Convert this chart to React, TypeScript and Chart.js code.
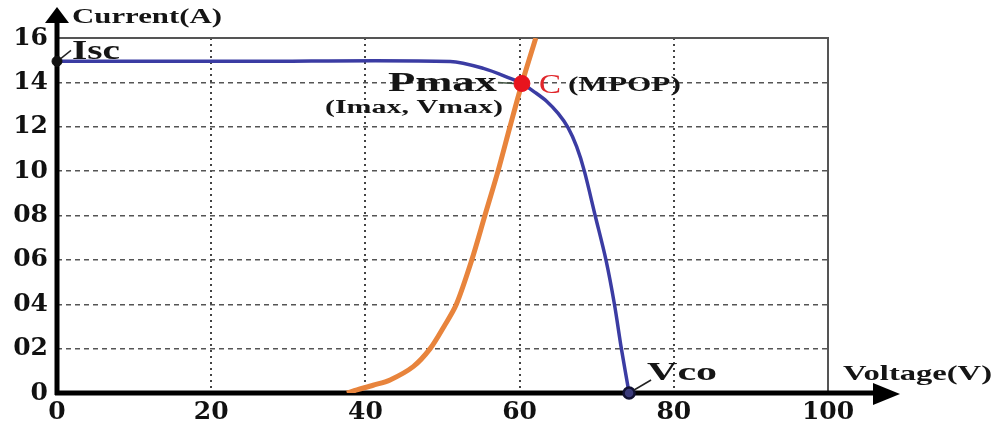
import React, { useEffect, useRef } from "react";
import { Chart, registerables } from "chart.js";

Chart.register(...registerables);

// I–V characteristic (blue) : [Voltage (V), Current (A)]
const ivVoltage = [0, 25, 51.0, 55.3, 58.8, 60.3, 62.0, 63.5, 65.0, 66.3, 67.4, 68.4, 69.8, 71.2, 72.3, 73.2, 74.2];
const ivCurrent = [14.95, 14.95, 14.94, 14.63, 14.18, 13.95, 13.55, 13.15, 12.6, 11.95, 11.1, 10.0, 8.0, 6.0, 4.0, 2.0, 0];

// Load line (orange)
const loadVoltage = [37.6, 38.9, 41.0, 43.2, 46.2, 48.4, 50.2, 51.8, 53.8, 55.5, 57.2, 58.75, 60.3, 62.1];
const loadCurrent = [0, 0.14, 0.35, 0.59, 1.19, 2.0, 3.0, 4.0, 6.0, 8.0, 10.0, 12.0, 13.95, 16.0];

// Special points
const iscPoint = { x: 0, y: 14.95 };
const mpopPoint = { x: 60.3, y: 13.95 };
const vcoPoint = { x: 74.2, y: 0 };

// Axes
const xTicks = [0, 20, 40, 60, 80, 100];
const yTicks = [0, 2, 4, 6, 8, 10, 12, 14, 16];
const yTickLabels = ["0", "02", "04", "06", "08", "10", "12", "14", "16"];

const SERIF = '"Liberation Serif", "Times New Roman", serif';

function stretchText(
  ctx: CanvasRenderingContext2D,
  text: string,
  x: number,
  baseline: number,
  size: number,
  width: number,
  color = "#151515",
  weight = "bold"
) {
  ctx.save();
  ctx.font = `${weight} ${size}px ${SERIF}`;
  const w = ctx.measureText(text).width;
  ctx.translate(x, baseline);
  ctx.scale(width / w, 1);
  ctx.fillStyle = color;
  ctx.textAlign = "left";
  ctx.textBaseline = "alphabetic";
  ctx.fillText(text, 0, 0);
  ctx.restore();
}

const decorPlugin = {
  id: "decor",
  beforeDatasetsDraw(chart: any) {
    const { ctx, chartArea } = chart;
    const xs = chart.scales.x;
    const ys = chart.scales.y;
    const x0 = xs.getPixelForValue(0);
    const y0 = ys.getPixelForValue(0);
    const xMax = xs.getPixelForValue(100);
    const yMax = ys.getPixelForValue(16);
    ctx.save();
    // frame (top & right)
    ctx.strokeStyle = "#555";
    ctx.lineWidth = 2;
    ctx.beginPath();
    ctx.moveTo(x0, yMax);
    ctx.lineTo(xMax, yMax);
    ctx.lineTo(xMax, y0);
    ctx.stroke();
    // axes
    ctx.strokeStyle = "#000";
    ctx.fillStyle = "#000";
    ctx.lineWidth = 5;
    ctx.beginPath();
    ctx.moveTo(x0, y0 + 2);
    ctx.lineTo(x0, chartArea.top - 20);
    ctx.moveTo(x0 - 2, y0);
    ctx.lineTo(xMax + 50, y0);
    ctx.stroke();
    // arrow heads
    ctx.beginPath();
    ctx.moveTo(x0, chartArea.top - 31);
    ctx.lineTo(x0 - 12, chartArea.top - 15);
    ctx.lineTo(x0 + 12, chartArea.top - 15);
    ctx.closePath();
    ctx.fill();
    ctx.beginPath();
    ctx.moveTo(xMax + 72, y0 + 1);
    ctx.lineTo(xMax + 45, y0 - 10);
    ctx.lineTo(xMax + 45, y0 + 12);
    ctx.closePath();
    ctx.fill();
    ctx.restore();
  },
  afterDatasetsDraw(chart: any) {
    const { ctx } = chart;
    const xs = chart.scales.x;
    const ys = chart.scales.y;
    const isc = { x: xs.getPixelForValue(iscPoint.x), y: ys.getPixelForValue(iscPoint.y) };
    const mp = { x: xs.getPixelForValue(mpopPoint.x), y: ys.getPixelForValue(mpopPoint.y) };
    const vc = { x: xs.getPixelForValue(vcoPoint.x), y: ys.getPixelForValue(vcoPoint.y) };
    ctx.save();
    ctx.lineWidth = 1.5;
    ctx.strokeStyle = "#222";
    ctx.beginPath();
    ctx.moveTo(isc.x + 4, isc.y - 3);
    ctx.lineTo(isc.x + 14, isc.y - 11);
    ctx.stroke();
    ctx.strokeStyle = "#445544";
    ctx.beginPath();
    ctx.moveTo(mp.x - 24, mp.y - 1);
    ctx.lineTo(mp.x - 8, mp.y);
    ctx.stroke();
    ctx.strokeStyle = "#222";
    ctx.beginPath();
    ctx.moveTo(vc.x + 5, vc.y - 3);
    ctx.lineTo(vc.x + 22, vc.y - 13);
    ctx.stroke();
    ctx.restore();

    stretchText(ctx, "Current(A)", 72, 23, 22, 150);
    stretchText(ctx, "Isc", isc.x + 15, isc.y - 2, 27, 48);
    stretchText(ctx, "Pmax", mp.x - 134, mp.y + 8, 27, 109);
    stretchText(ctx, "(Imax, Vmax)", mp.x - 197, mp.y + 30, 18, 178);
    stretchText(ctx, "C", mp.x + 17, mp.y + 10, 28, 22, "#e0262b", "normal");
    stretchText(ctx, "(MPOP)", mp.x + 46, mp.y + 8, 22, 113);
    stretchText(ctx, "Vco", vc.x + 18, vc.y - 13, 25, 70);
    stretchText(ctx, "Voltage(V)", 843, 380, 21, 149);
  },
};

export default function App() {
  const canvasRef = useRef<HTMLCanvasElement | null>(null);

  useEffect(() => {
    const canvas = canvasRef.current;
    if (!canvas) return;
    const ivData = ivVoltage.map((v, i) => ({ x: v, y: ivCurrent[i] }));
    const loadData = loadVoltage.map((v, i) => ({ x: v, y: loadCurrent[i] }));

    // Chart.js paints dataset 0 last (on top), so markers come first.
    const chart = new Chart(canvas, {
      type: "scatter",
      data: {
        datasets: [
          {
            label: "MPOP",
            data: [mpopPoint],
            pointRadius: 8,
            backgroundColor: "#e8141e",
            borderColor: "#e8141e",
            clip: false,
          },
          {
            label: "Vco",
            data: [vcoPoint],
            pointRadius: 5.5,
            backgroundColor: "#3a3a7a",
            borderColor: "#111133",
            borderWidth: 2.5,
            clip: false,
          },
          {
            label: "Isc",
            data: [iscPoint],
            pointRadius: 5,
            backgroundColor: "#111",
            borderColor: "#111",
            clip: false,
          },
          {
            label: "Load",
            data: loadData,
            showLine: true,
            borderColor: "#e8843c",
            borderWidth: 5,
            pointRadius: 0,
            tension: 0.3,
          },
          {
            label: "I-V",
            data: ivData,
            showLine: true,
            borderColor: "#3b3ca3",
            borderWidth: 3.5,
            pointRadius: 0,
            tension: 0.3,
          },
        ],
      } as any,
      options: {
        animation: false,
        responsive: false,
        devicePixelRatio: 1,
        layout: { padding: { top: 38, right: 174, left: 0, bottom: 0 } },
        plugins: {
          legend: { display: false },
          tooltip: { enabled: false },
        },
        scales: {
          x: {
            type: "linear",
            min: 0,
            max: 100,
            afterFit: (s: any) => {
              s.height = 32;
            },
            afterBuildTicks: (s: any) => {
              s.ticks = xTicks.map((v) => ({ value: v }));
            },
            ticks: {
              color: "#111",
              padding: 4,
              maxRotation: 0,
              font: { family: '"DejaVu Serif", serif', weight: "bold", size: 25 },
            },
            grid: {
              drawTicks: false,
              lineWidth: 2,
              color: (c: any) =>
                c.tick && (c.tick.value === 0 || c.tick.value === 100) ? "rgba(0,0,0,0)" : "#444",
            },
            border: { display: false, dash: [2, 4] },
          },
          y: {
            type: "linear",
            min: 0,
            max: 16,
            afterFit: (s: any) => {
              s.width = 57;
            },
            afterBuildTicks: (s: any) => {
              s.ticks = yTicks.map((v) => ({ value: v }));
            },
            ticks: {
              color: "#111",
              padding: 9,
              font: { family: '"DejaVu Serif", serif', weight: "bold", size: 25 },
              callback: (value: any) => {
                const i = yTicks.indexOf(Number(value));
                return i >= 0 ? yTickLabels[i] : "";
              },
            },
            grid: {
              drawTicks: false,
              lineWidth: 1.5,
              color: (c: any) =>
                c.tick && (c.tick.value === 0 || c.tick.value === 16) ? "rgba(0,0,0,0)" : "#555",
            },
            border: { display: false, dash: [5, 4] },
          },
        },
      } as any,
      plugins: [decorPlugin],
    });
    return () => chart.destroy();
  }, []);

  return (
    <div style={{ position: "absolute", left: 0, top: 0, width: 1002, height: 425, background: "#fff" }}>
      <canvas ref={canvasRef} width={1002} height={425} />
    </div>
  );
}
